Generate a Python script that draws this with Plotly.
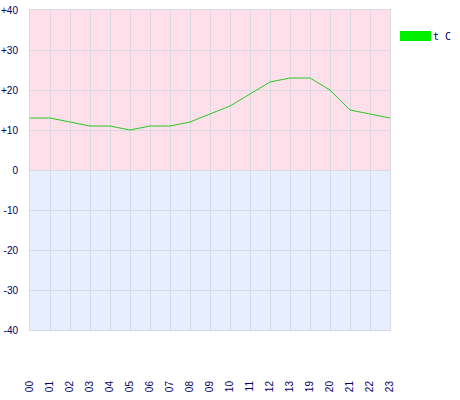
import plotly.graph_objects as go

hours = ["00", "01", "02", "03", "04", "05", "06", "07", "08", "09", "10",
         "11", "12", "13", "19", "20", "21", "22", "23"]
temps = [13, 13, 12, 11, 11, 10, 11, 11, 12, 14, 16, 19, 22, 23, 23, 20, 15, 14, 13]
y_tickvals = [40, 30, 20, 10, 0, -10, -20, -30, -40]
y_ticktext = ["+40", "+30", "+20", "+10", "0", "-10", "-20", "-30", "-40"]
series_name = "t C"

text_color = "#000066"
grid_color = "#d9d9e3"
tick_font = dict(family="Liberation Sans", size=10, color=text_color)

fig = go.Figure()
fig.add_trace(go.Scatter(x=hours, y=temps, mode="lines", name=series_name,
                         line=dict(color="#22cc22", width=1), showlegend=False,
                         hoverinfo="x+y"))

# background bands
fig.add_shape(type="rect", xref="paper", yref="y", x0=0, x1=1, y0=0, y1=40,
              fillcolor="#ffdfe9", line=dict(width=0), layer="below")
fig.add_shape(type="rect", xref="paper", yref="y", x0=0, x1=1, y0=-40, y1=0,
              fillcolor="#e6eeff", line=dict(width=0), layer="below")

# legend box + text (paper coords relative to a 360x320 plot area at 30,10)
fig.add_shape(type="rect", xref="paper", yref="paper",
              x0=(400 - 30) / 360, x1=(431 - 30) / 360,
              y0=(330 - 41) / 320, y1=(330 - 31) / 320,
              fillcolor="#00ee00", line=dict(width=0))
fig.add_annotation(xref="paper", yref="paper", x=(432 - 30) / 360, y=(330 - 36) / 320,
                   text=series_name, showarrow=False, xanchor="left", yanchor="middle",
                   borderpad=0,
                   font=dict(family="DejaVu Sans Mono", size=10, color=text_color))

fig.update_layout(
    width=460, height=400,
    margin=dict(l=30, r=70, t=10, b=70, autoexpand=False),
    paper_bgcolor="white", plot_bgcolor="white",
    font=dict(family="Liberation Sans", size=10, color=text_color),
    showlegend=False,
)
fig.update_xaxes(type="category", range=[0, len(hours) - 1], showgrid=True,
                 gridcolor=grid_color, gridwidth=1, tickangle=-90,
                 ticks="", ticklabelstandoff=46, zeroline=False, automargin=False,
                 showline=True, linecolor=grid_color, mirror=True,
                 tickfont=tick_font)
fig.update_yaxes(range=[-40, 40], tickvals=y_tickvals, ticktext=y_ticktext,
                 showgrid=True, gridcolor=grid_color, gridwidth=1, zeroline=False,
                 ticks="", ticklabelstandoff=9, automargin=False,
                 showline=True, linecolor=grid_color, mirror=True,
                 tickfont=tick_font)

fig.write_html("out.html", config={"displayModeBar": False},
               post_script="document.body.style.margin='0';document.body.style.overflow='hidden';")
